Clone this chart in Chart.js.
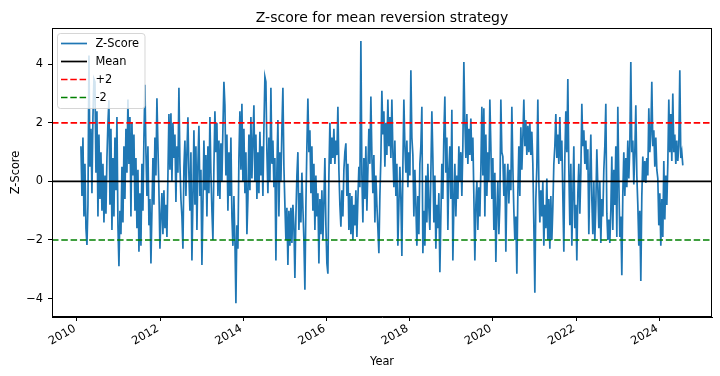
<!DOCTYPE html>
<html>
<head>
<meta charset="utf-8">
<script src="https://cdn.jsdelivr.net/npm/chart.js@4.4.1/dist/chart.umd.min.js"></script>
<style>
  html, body { margin: 0; padding: 0; background: #ffffff; }
  #wrap { width: 720px; height: 376px; position: relative; }
</style>
</head>
<body>
<div id="wrap"><canvas id="c" width="720" height="376"></canvas></div>
<script>
// ---- Data ----
// Z-score sampled at an even step (about 9 days) from early 2010 to mid 2024
const startYear = 2010.096;
const stepYears = 0.02404;
const zScore = [
  1.2,-0.5,1.5,-1.2,0.6,-1.6,-2.17,-0.8,4.3,0.5,
  1.8,-0.4,2.2,3.5,3.4,0.3,2.4,-1.2,1.6,-0.6,
  1.0,-1.0,0.6,-1.4,0.2,-1.1,0.8,2.0,2.77,-0.8,
  1.8,-1.66,0.8,-1.2,1.5,-0.3,2.2,-1.5,-2.9,-1.0,
  -1.8,0.5,-1.4,1.2,-0.6,1.8,0.3,2.8,0.6,2.2,
  -1.2,2.0,0.2,1.6,-1.0,0.8,-1.6,0.4,-2.4,-0.4,
  -2.2,0.6,-1.0,1.5,3.3,1.0,-0.5,1.2,-1.5,-0.6,
  -2.8,-1.0,0.8,-0.8,1.5,0.2,2.84,1.2,-0.3,-2.3,
  -1.2,-0.4,-1.8,-0.3,-1.6,-0.8,-1.9,0.2,2.3,0.4,
  2.33,0.0,2.0,0.8,1.6,-0.7,1.2,0.3,3.2,0.6,
  -0.6,-1.2,-2.3,0.5,1.4,-0.5,1.0,2.19,0.2,-1.0,
  1.0,-2.7,-0.6,1.75,-0.8,1.2,-1.66,0.6,1.9,-0.5,
  0.4,-2.85,-0.8,1.4,-0.3,0.9,-1.2,1.2,-0.4,2.2,
  0.3,-1.0,-2.0,0.5,2.4,1.0,2.0,-0.5,1.4,-0.6,
  1.3,0.0,1.8,3.4,2.6,0.2,1.6,-1.0,1.0,-0.5,
  1.5,-1.2,-2.2,-0.5,-2.0,-4.16,-1.5,-2.3,0.8,2.4,
  0.4,2.65,0.0,1.8,-0.4,1.0,-1.8,-0.6,1.6,-0.3,
  2.2,0.1,1.4,2.6,0.0,1.6,-0.6,1.0,-0.4,1.7,
  0.2,1.2,-0.5,1.8,3.57,3.4,1.0,-0.4,1.5,0.0,
  3.2,0.6,1.4,-0.2,0.8,-2.7,0.4,2.1,-1.2,1.0,
  0.0,1.8,3.2,0.5,-0.8,-2.0,-0.9,-2.85,-1.0,-2.2,
  -0.9,-2.1,-0.8,-1.5,-3.3,-1.2,0.2,1.0,-1.66,-0.4,
  -1.4,0.3,-0.9,-2.0,-3.7,-0.8,1.2,2.83,1.0,1.75,
  -0.4,1.2,-1.0,0.6,-1.66,0.2,-1.2,-0.4,-2.8,-0.6,
  -1.8,-0.3,-2.0,-0.7,0.8,-1.5,-2.8,-3.15,0.2,2.0,
  0.6,1.5,0.8,1.8,0.6,1.4,0.9,2.55,0.4,-0.8,
  -1.55,-0.3,-1.2,0.4,1.0,1.3,-0.5,0.6,-1.66,-0.4,
  -1.8,-0.5,-2.0,-0.8,-1.5,-0.3,-1.9,-0.6,0.5,-0.2,
  4.8,0.2,-1.4,0.8,-0.6,1.2,-1.0,0.4,1.8,0.6,
  2.9,0.9,-0.4,0.9,-1.4,0.2,-0.8,-1.6,-2.45,-0.5,
  0.8,3.1,1.6,2.4,0.5,2.0,0.9,2.8,1.2,2.2,
  0.8,2.8,1.0,-0.2,1.4,-0.5,0.6,-2.2,-0.8,0.5,
  -0.6,-2.55,0.5,2.8,1.2,0.3,1.4,-0.2,1.0,0.2,
  3.8,1.5,0.9,-1.2,0.4,-0.8,-2.2,-0.5,-1.8,0.6,
  1.2,2.55,-2.45,-1.0,-2.2,0.2,-1.4,0.6,-0.9,-1.66,
  0.3,2.4,0.8,-1.4,0.2,-2.3,-0.8,-1.6,-0.4,-3.1,
  -1.2,0.6,-0.6,1.6,2.9,0.3,1.5,-1.66,0.4,1.2,
  -0.6,2.45,-2.7,-0.8,0.6,-1.2,0.2,-0.6,1.2,0.0,
  1.0,-0.5,1.2,4.08,2.0,0.8,2.3,0.6,1.8,0.9,
  2.15,0.7,1.5,-0.5,-2.7,-0.8,0.0,-1.66,-0.2,-1.2,
  0.4,2.55,0.2,2.5,-1.2,1.6,-0.5,1.0,0.0,2.8,
  1.2,-0.6,0.8,-1.66,0.3,-2.75,-1.0,0.0,-1.8,-0.8,
  2.8,1.0,0.85,-0.5,0.6,-2.4,-0.2,0.6,-0.75,0.4,
  -0.3,2.55,0.5,-1.0,-2.0,-1.2,-3.15,-0.4,1.2,-0.5,
  1.85,0.4,1.5,2.8,1.2,2.1,0.9,1.9,1.0,2.0,
  0.9,1.7,0.6,-1.5,-3.8,-0.6,0.5,2.8,0.0,-1.4,
  -0.3,-1.2,0.0,-2.2,-0.8,-1.6,0.1,-2.0,-0.6,-2.3,
  -0.5,-2.0,-0.9,0.6,1.2,2.3,0.8,1.6,0.6,2.2,
  0.7,1.4,-0.5,-2.4,0.8,2.4,1.0,3.5,0.4,-1.5,
  0.6,-2.2,-0.5,1.2,-1.6,-0.8,-2.7,-0.4,0.6,-1.1,
  0.3,2.65,1.2,1.75,0.6,1.4,0.4,1.1,-1.8,0.2,
  1.6,-0.6,-1.8,0.0,-2.0,-0.8,1.1,-0.2,-1.6,0.0,
  -2.1,-0.6,-1.2,0.4,1.2,2.65,-1.1,-2.0,-1.3,-2.1,
  -1.0,0.85,-1.66,0.4,-0.8,1.2,-1.9,2.55,0.0,-1.9,
  -1.2,-3.2,-0.4,1.0,-0.5,0.8,-0.2,1.4,0.1,1.2,
  4.08,1.0,1.4,-0.1,1.0,2.6,0.2,-0.8,-2.2,-1.0,
  -3.4,-0.5,0.85,0.0,0.7,-0.05,0.8,0.2,2.5,1.0,
  1.6,3.4,1.2,1.75,0.5,1.5,0.4,0.1,-1.5,-0.4,
  -2.2,-0.6,-1.9,0.7,-1.3,0.2,-0.8,0.6,2.8,1.0,
  2.3,0.7,3.0,1.0,1.6,0.6,1.4,0.7,1.2,3.8,
  0.8,1.0,0.55
];
const meanLevel = 0;
const upperLevel = 2;
const lowerLevel = -2;
const xTickYears = [2010, 2012, 2014, 2016, 2018, 2020, 2022, 2024];
const yTickValues = [-4, -2, 0, 2, 4];
const legendLabels = ['Z-Score', 'Mean', '+2', '-2'];
const titleText = 'Z-score for mean reversion strategy';
const xTitle = 'Year';
const yTitle = 'Z-Score';

// ---- Build chart ----
const FONT = "'DejaVu Sans', sans-serif";
const X_MIN = 2009.40, X_MAX = 2025.27;
const Y_MIN = -4.63, Y_MAX = 5.24;
const BLUE = '#1f77b4';
const DASH = [6.5, 2.8];
const LW = 1.7;

const zPoints = zScore.map((v, i) => ({ x: startYear + i * stepYears, y: v }));
const hline = (v) => [{ x: X_MIN, y: v }, { x: X_MAX, y: v }];

const legendStyles = [
  { color: BLUE, dash: [] },
  { color: '#000000', dash: [] },
  { color: '#ff0000', dash: DASH },
  { color: '#008000', dash: DASH }
];

const decorPlugin = {
  id: 'decor',
  afterDraw(chart) {
    const ctx = chart.ctx;
    const a = chart.chartArea;
    ctx.save();
    // frame (all four spines)
    ctx.strokeStyle = '#000000';
    ctx.lineWidth = 1;
    ctx.strokeRect(Math.round(a.left) + 0.5, Math.round(a.top) + 0.5,
                   Math.round(a.right - a.left) - 1, Math.round(a.bottom - a.top) - 1);
    // title
    ctx.fillStyle = '#000000';
    ctx.textAlign = 'center';
    ctx.textBaseline = 'alphabetic';
    ctx.font = '14px ' + FONT;
    ctx.fillText(titleText, (a.left + a.right) / 2, 21.5);
    // x title
    ctx.font = '11.4px ' + FONT;
    ctx.fillText(xTitle, (a.left + a.right) / 2, 365);
    // y title
    ctx.save();
    ctx.translate(19, (a.top + a.bottom) / 2);
    ctx.rotate(-Math.PI / 2);
    ctx.fillText(yTitle, 0, 0);
    ctx.restore();
    // legend box
    const bx = 57.5, by = 33.5, bw = 87.5, bh = 75;
    ctx.beginPath();
    const r = 3;
    ctx.moveTo(bx + r, by);
    ctx.lineTo(bx + bw - r, by); ctx.quadraticCurveTo(bx + bw, by, bx + bw, by + r);
    ctx.lineTo(bx + bw, by + bh - r); ctx.quadraticCurveTo(bx + bw, by + bh, bx + bw - r, by + bh);
    ctx.lineTo(bx + r, by + bh); ctx.quadraticCurveTo(bx, by + bh, bx, by + bh - r);
    ctx.lineTo(bx, by + r); ctx.quadraticCurveTo(bx, by, bx + r, by);
    ctx.closePath();
    ctx.fillStyle = 'rgba(255,255,255,0.8)';
    ctx.fill();
    ctx.strokeStyle = 'rgba(204,204,204,0.8)';
    ctx.lineWidth = 1;
    ctx.stroke();
    const rows = [43.5, 61.5, 79.5, 97.5];
    ctx.textAlign = 'left';
    ctx.textBaseline = 'middle';
    ctx.font = '11.4px ' + FONT;
    legendLabels.forEach((lab, i) => {
      const st = legendStyles[i];
      ctx.beginPath();
      ctx.setLineDash(st.dash);
      ctx.strokeStyle = st.color;
      ctx.lineWidth = LW;
      ctx.moveTo(61, rows[i]);
      ctx.lineTo(87, rows[i]);
      ctx.stroke();
      ctx.setLineDash([]);
      ctx.fillStyle = '#000000';
      ctx.fillText(lab, 95.5, rows[i] + 0.5);
    });
    ctx.restore();
  }
};

new Chart(document.getElementById('c'), {
  type: 'line',
  data: {
    datasets: [
      { label: legendLabels[0], data: zPoints, borderColor: BLUE, borderWidth: LW,
        pointRadius: 0, tension: 0, order: 2 },
      { label: legendLabels[1], data: hline(meanLevel), borderColor: '#000000', borderWidth: LW,
        pointRadius: 0, order: 1 },
      { label: legendLabels[2], data: hline(upperLevel), borderColor: '#ff0000', borderWidth: LW,
        borderDash: DASH, pointRadius: 0, order: 1 },
      { label: legendLabels[3], data: hline(lowerLevel), borderColor: '#008000', borderWidth: LW,
        borderDash: DASH, pointRadius: 0, order: 1 }
    ]
  },
  options: {
    responsive: false,
    animation: false,
    events: [],
    layout: { padding: { top: 28, right: 8, left: 0, bottom: 0 } },
    plugins: { legend: { display: false }, title: { display: false }, tooltip: { enabled: false } },
    scales: {
      x: {
        type: 'linear',
        min: X_MIN, max: X_MAX,
        afterFit: (s) => { s.height = 59; },
        afterBuildTicks: (s) => { s.ticks = xTickYears.map(v => ({ value: v })); },
        grid: { display: true, drawOnChartArea: false, drawTicks: true, tickLength: 4, tickColor: '#000000', tickWidth: 1 },
        border: { display: true, color: '#000000', width: 1 },
        ticks: {
          autoSkip: false, minRotation: 30, maxRotation: 30, padding: 1, labelOffset: -2,
          color: '#000000', font: { family: FONT, size: 11.4 },
          callback: (v) => String(v)
        }
      },
      y: {
        type: 'linear',
        min: Y_MIN, max: Y_MAX,
        afterFit: (s) => { s.width = 52; },
        afterBuildTicks: (s) => { s.ticks = yTickValues.map(v => ({ value: v })); },
        grid: { display: true, drawOnChartArea: false, drawTicks: true, tickLength: 4, tickColor: '#000000', tickWidth: 1 },
        border: { display: true, color: '#000000', width: 1 },
        ticks: {
          padding: 5, color: '#000000', font: { family: FONT, size: 11.4 },
          callback: (v) => (v < 0 ? '\u2212' + Math.abs(v) : String(v))
        }
      }
    }
  },
  plugins: [decorPlugin]
});
</script>
</body>
</html>
